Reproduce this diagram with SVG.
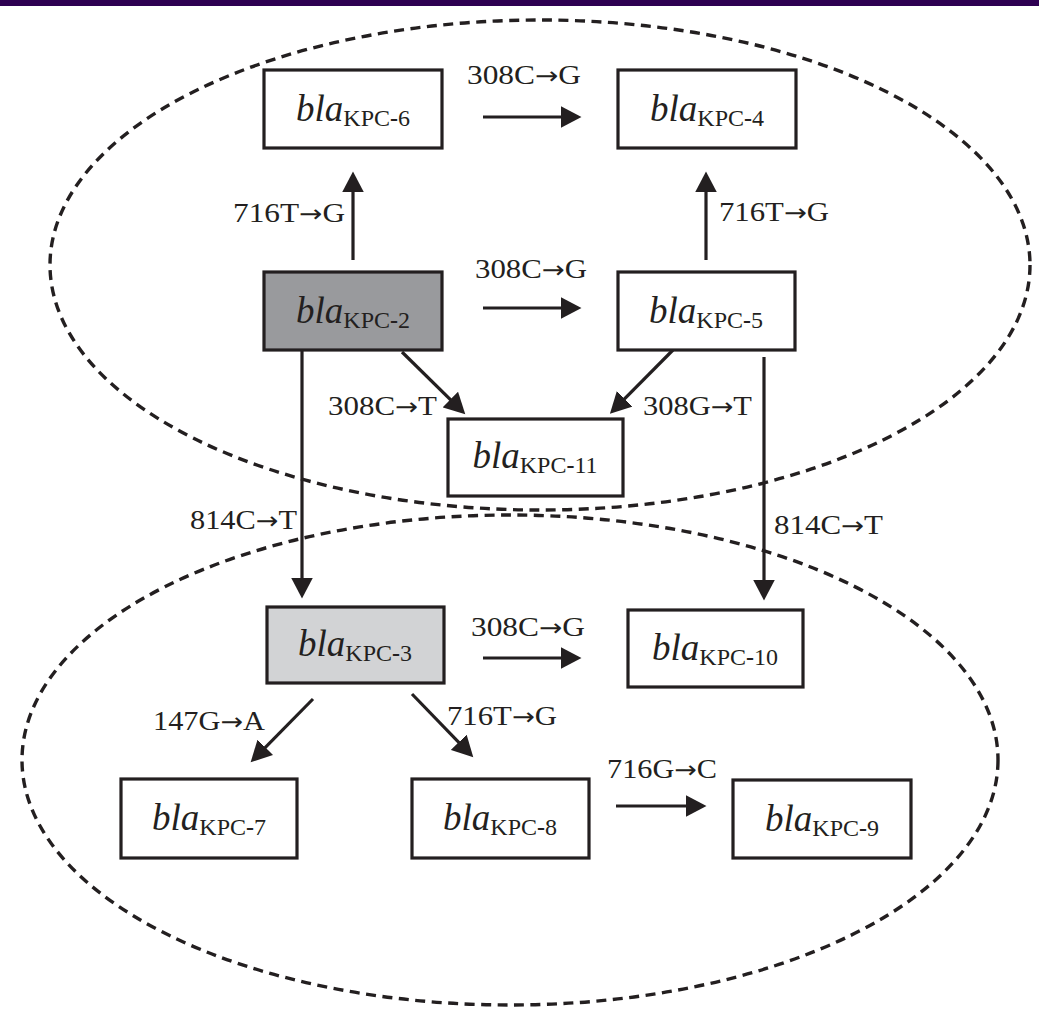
<svg xmlns="http://www.w3.org/2000/svg" width="1039" height="1017" viewBox="0 0 1039 1017">
<style>
.bg{fill:#ffffff}
.ell{fill:none;stroke:#231f20;stroke-width:3.4;stroke-dasharray:10 6.5}
.box{fill:#ffffff;stroke:#231f20;stroke-width:3.2}
.dark{fill:#999a9d}
.light{fill:#d2d3d5}
.n{font-family:"Liberation Serif","Times New Roman",serif;font-style:italic;font-size:37px;fill:#231f20;text-anchor:middle}
.s{font-style:normal;font-size:24px}
.b{font-weight:bold}
.lbl{font-family:"Liberation Serif","Times New Roman",serif;font-size:27px;fill:#231f20}
.ar{font-family:"DejaVu Sans",sans-serif;font-size:24px}
.c{fill:none;stroke:#231f20;stroke-width:3.2}
</style>
<defs>
<marker id="ah" markerUnits="userSpaceOnUse" markerWidth="22" markerHeight="22" refX="10" refY="10.5" orient="auto" viewBox="0 0 21 21">
<path d="M0,0 L20,10.5 L0,21 Z" fill="#231f20"/>
</marker>
</defs>
<rect class="bg" x="0" y="0" width="1039" height="1017"/>
<rect x="0" y="0" width="1039" height="6" fill="#2e0052"/>
<g id="groups">
<ellipse class="ell" cx="540" cy="265" rx="490" ry="245"/>
<ellipse class="ell" cx="510" cy="760" rx="488" ry="245"/>
</g>
<g id="connectors">
<line class="c" x1="353" y1="260" x2="353" y2="182" marker-end="url(#ah)"/>
<line class="c" x1="706" y1="260" x2="706" y2="182" marker-end="url(#ah)"/>
<line class="c" x1="483" y1="117" x2="571" y2="117" marker-end="url(#ah)"/>
<line class="c" x1="483" y1="308" x2="571" y2="308" marker-end="url(#ah)"/>
<line class="c" x1="402" y1="352" x2="457.8" y2="406.9" marker-end="url(#ah)"/>
<line class="c" x1="673" y1="350" x2="617.3" y2="406.2" marker-end="url(#ah)"/>
<line class="c" x1="302" y1="351" x2="302" y2="588" marker-end="url(#ah)"/>
<line class="c" x1="764" y1="357" x2="764" y2="590" marker-end="url(#ah)"/>
<line class="c" x1="483" y1="658" x2="571" y2="658" marker-end="url(#ah)"/>
<line class="c" x1="313" y1="699" x2="258" y2="754.8" marker-end="url(#ah)"/>
<line class="c" x1="412" y1="694" x2="466" y2="749.8" marker-end="url(#ah)"/>
<line class="c" x1="616" y1="806" x2="696" y2="806" marker-end="url(#ah)"/>
<text class="lbl" x="467" y="84" textLength="114" lengthAdjust="spacingAndGlyphs">308C<tspan class="ar">→</tspan>G</text>
<text class="lbl" x="233" y="222" textLength="112" lengthAdjust="spacingAndGlyphs">716T<tspan class="ar">→</tspan>G</text>
<text class="lbl" x="719" y="221" textLength="110" lengthAdjust="spacingAndGlyphs">716T<tspan class="ar">→</tspan>G</text>
<text class="lbl" x="475" y="278" textLength="112" lengthAdjust="spacingAndGlyphs">308C<tspan class="ar">→</tspan>G</text>
<text class="lbl" x="328" y="415" textLength="109" lengthAdjust="spacingAndGlyphs">308C<tspan class="ar">→</tspan>T</text>
<text class="lbl" x="643" y="415" textLength="109" lengthAdjust="spacingAndGlyphs">308G<tspan class="ar">→</tspan>T</text>
<text class="lbl" x="190" y="529" textLength="107" lengthAdjust="spacingAndGlyphs">814C<tspan class="ar">→</tspan>T</text>
<text class="lbl" x="774" y="534" textLength="109" lengthAdjust="spacingAndGlyphs">814C<tspan class="ar">→</tspan>T</text>
<text class="lbl" x="471" y="636" textLength="114" lengthAdjust="spacingAndGlyphs">308C<tspan class="ar">→</tspan>G</text>
<text class="lbl" x="153" y="730" textLength="112" lengthAdjust="spacingAndGlyphs">147G<tspan class="ar">→</tspan>A</text>
<text class="lbl" x="447" y="725" textLength="110" lengthAdjust="spacingAndGlyphs">716T<tspan class="ar">→</tspan>G</text>
<text class="lbl" x="607" y="778" textLength="110" lengthAdjust="spacingAndGlyphs">716G<tspan class="ar">→</tspan>C</text>
</g>
<g id="kpc6"><rect class="box" x="264" y="70" width="178" height="78"/><text class="n" x="353" y="121">bla<tspan class="s" dy="5">KPC<tspan class="b">-</tspan>6</tspan></text></g>
<g id="kpc4"><rect class="box" x="618" y="70" width="178" height="78"/><text class="n" x="707" y="121">bla<tspan class="s" dy="5">KPC<tspan class="b">-</tspan>4</tspan></text></g>
<g id="kpc2"><rect class="box dark" x="264" y="272" width="178" height="78"/><text class="n" x="353" y="323">bla<tspan class="s" dy="5">KPC<tspan class="b">-</tspan>2</tspan></text></g>
<g id="kpc5"><rect class="box" x="618" y="272" width="177" height="78"/><text class="n" x="706" y="323">bla<tspan class="s" dy="5">KPC<tspan class="b">-</tspan>5</tspan></text></g>
<g id="kpc11"><rect class="box" x="448" y="419" width="175" height="77"/><text class="n" x="535" y="468">bla<tspan class="s" dy="5">KPC<tspan class="b">-</tspan>11</tspan></text></g>
<g id="kpc3"><rect class="box light" x="267" y="607" width="177" height="76"/><text class="n" x="355" y="656">bla<tspan class="s" dy="5">KPC<tspan class="b">-</tspan>3</tspan></text></g>
<g id="kpc10"><rect class="box" x="628" y="610" width="175" height="77"/><text class="n" x="715" y="660">bla<tspan class="s" dy="5">KPC<tspan class="b">-</tspan>10</tspan></text></g>
<g id="kpc7"><rect class="box" x="121" y="779" width="176" height="79"/><text class="n" x="209" y="830">bla<tspan class="s" dy="5">KPC<tspan class="b">-</tspan>7</tspan></text></g>
<g id="kpc8"><rect class="box" x="412" y="779" width="177" height="79"/><text class="n" x="500" y="830">bla<tspan class="s" dy="5">KPC<tspan class="b">-</tspan>8</tspan></text></g>
<g id="kpc9"><rect class="box" x="733" y="780" width="178" height="78"/><text class="n" x="822" y="831">bla<tspan class="s" dy="5">KPC<tspan class="b">-</tspan>9</tspan></text></g>
</svg>
